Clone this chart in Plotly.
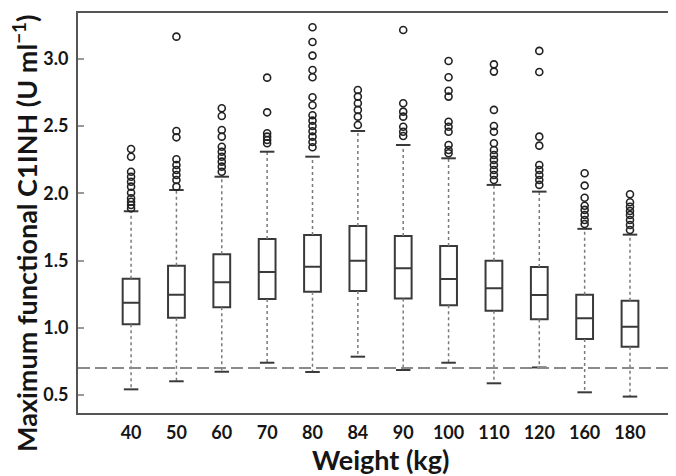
import plotly.graph_objects as go

categories = ["40", "50", "60", "70", "80", "84", "90", "100", "110", "120", "160", "180"]
q1 = [1.026, 1.075, 1.152, 1.214, 1.269, 1.274, 1.217, 1.167, 1.127, 1.063, 0.917, 0.859]
median = [1.187, 1.246, 1.338, 1.415, 1.455, 1.499, 1.443, 1.363, 1.294, 1.244, 1.071, 1.008]
q3 = [1.365, 1.462, 1.547, 1.661, 1.690, 1.757, 1.683, 1.609, 1.499, 1.452, 1.246, 1.202]
lower_whisker = [0.542, 0.602, 0.673, 0.740, 0.671, 0.785, 0.686, 0.740, 0.587, 0.705, 0.520, 0.488]
upper_whisker = [1.867, 2.025, 2.124, 2.310, 2.273, 2.464, 2.360, 2.261, 2.063, 2.013, 1.736, 1.693]
outliers = [
    [2.330, 2.273, 2.161, 2.124, 2.087, 2.050, 2.005, 1.964, 1.938, 1.914, 1.889],
    [3.166, 2.464, 2.417, 2.254, 2.211, 2.174, 2.137, 2.100, 2.050],
    [2.633, 2.576, 2.472, 2.422, 2.347, 2.310, 2.273, 2.236, 2.199, 2.161],
    [2.861, 2.603, 2.447, 2.422, 2.397, 2.373],
    [3.236, 3.126, 3.025, 2.918, 2.864, 2.715, 2.656, 2.581, 2.541, 2.501, 2.462, 2.422, 2.382, 2.343],
    [2.769, 2.720, 2.670, 2.621, 2.571, 2.509],
    [3.216, 2.670, 2.608, 2.571, 2.496, 2.459, 2.427],
    [2.985, 2.864, 2.764, 2.720, 2.533, 2.496, 2.459, 2.360, 2.323, 2.298],
    [2.960, 2.906, 2.621, 2.501, 2.459, 2.373, 2.323, 2.286, 2.249, 2.211, 2.174, 2.137, 2.100],
    [3.060, 2.903, 2.422, 2.355, 2.211, 2.174, 2.137, 2.100, 2.063],
    [2.150, 2.058, 1.968, 1.908, 1.877, 1.839, 1.802, 1.772],
    [1.993, 1.934, 1.901, 1.869, 1.839, 1.802, 1.765, 1.728],
]
threshold = 0.7
y_ticks = [0.5, 1.0, 1.5, 2.0, 2.5, 3.0]

pos = list(range(len(categories)))
BOX_W = 0.37
CAP_HALF = 0.16
DARK = "#3a3a3a"
TXT = "#151515"
FONT = "Lato"

fig = go.Figure()

# dotted whiskers
wx, wy = [], []
for i in pos:
    wx += [i, i, None, i, i, None]
    wy += [q3[i], upper_whisker[i], None, q1[i], lower_whisker[i], None]
fig.add_trace(go.Scatter(x=wx, y=wy, mode="lines",
                         line=dict(color="#7a7a7a", width=1.5, dash="dot"),
                         hoverinfo="skip", showlegend=False))

# whisker caps
cx, cy = [], []
for i in pos:
    for v in (upper_whisker[i], lower_whisker[i]):
        cx += [i - CAP_HALF, i + CAP_HALF, None]
        cy += [v, v, None]
fig.add_trace(go.Scatter(x=cx, y=cy, mode="lines",
                         line=dict(color=DARK, width=2),
                         hoverinfo="skip", showlegend=False))

# boxes
fig.add_trace(go.Box(x=pos, q1=q1, median=median, q3=q3,
                     lowerfence=q1, upperfence=q3,
                     width=BOX_W, whiskerwidth=0, boxpoints=False,
                     fillcolor="rgba(255,255,255,0)",
                     line=dict(color=DARK, width=2),
                     showlegend=False))

# outliers
ox, oy = [], []
for i in pos:
    for v in outliers[i]:
        ox.append(i)
        oy.append(v)
fig.add_trace(go.Scatter(x=ox, y=oy, mode="markers",
                         marker=dict(symbol="circle-open", size=7,
                                     color="#222222", line=dict(width=1.6)),
                         showlegend=False))

fig.add_hline(y=threshold, line=dict(color="#8a8a8a", width=2, dash="12px,5px"))

# page body has an 8px margin: size the figure so it ends at the window edge
fig.update_layout(
    width=668, height=468,
    margin=dict(l=70, r=2, t=5, b=63),
    plot_bgcolor="white", paper_bgcolor="white",
    font=dict(family=FONT, color=TXT),
    xaxis=dict(range=[-1.17, 11.97], tickvals=pos, ticktext=categories,
               showgrid=False, zeroline=False, ticks="", automargin=False,
               showline=True, linecolor="#555555", linewidth=2, mirror=True,
               ticklabelstandoff=2,
               tickfont=dict(family=FONT, size=18, color=TXT, weight="bold")),
    yaxis=dict(range=[0.366, 3.342], tickvals=y_ticks, tickformat=".1f",
               showgrid=False, zeroline=False, ticks="inside", ticklen=6,
               tickcolor="#999999", tickwidth=1.5, automargin=False,
               showline=True, linecolor="#555555", linewidth=2, mirror=True,
               ticklabelstandoff=4,
               tickfont=dict(family=FONT, size=18, color=TXT, weight="bold")),
    annotations=[
        dict(text="Maximum functional C1INH (U ml<sup>−1</sup>)",
             xref="paper", yref="paper", x=-0.089, y=0.45,
             xanchor="center", yanchor="middle", textangle=-90,
             showarrow=False,
             font=dict(family=FONT, size=27, color=TXT, weight="bold")),
        dict(text="Weight (kg)",
             xref="paper", yref="paper", x=0.507, y=-0.115,
             xanchor="center", yanchor="middle",
             showarrow=False,
             font=dict(family=FONT, size=27, color=TXT, weight="bold")),
    ],
)

fig.write_html("out.html")
